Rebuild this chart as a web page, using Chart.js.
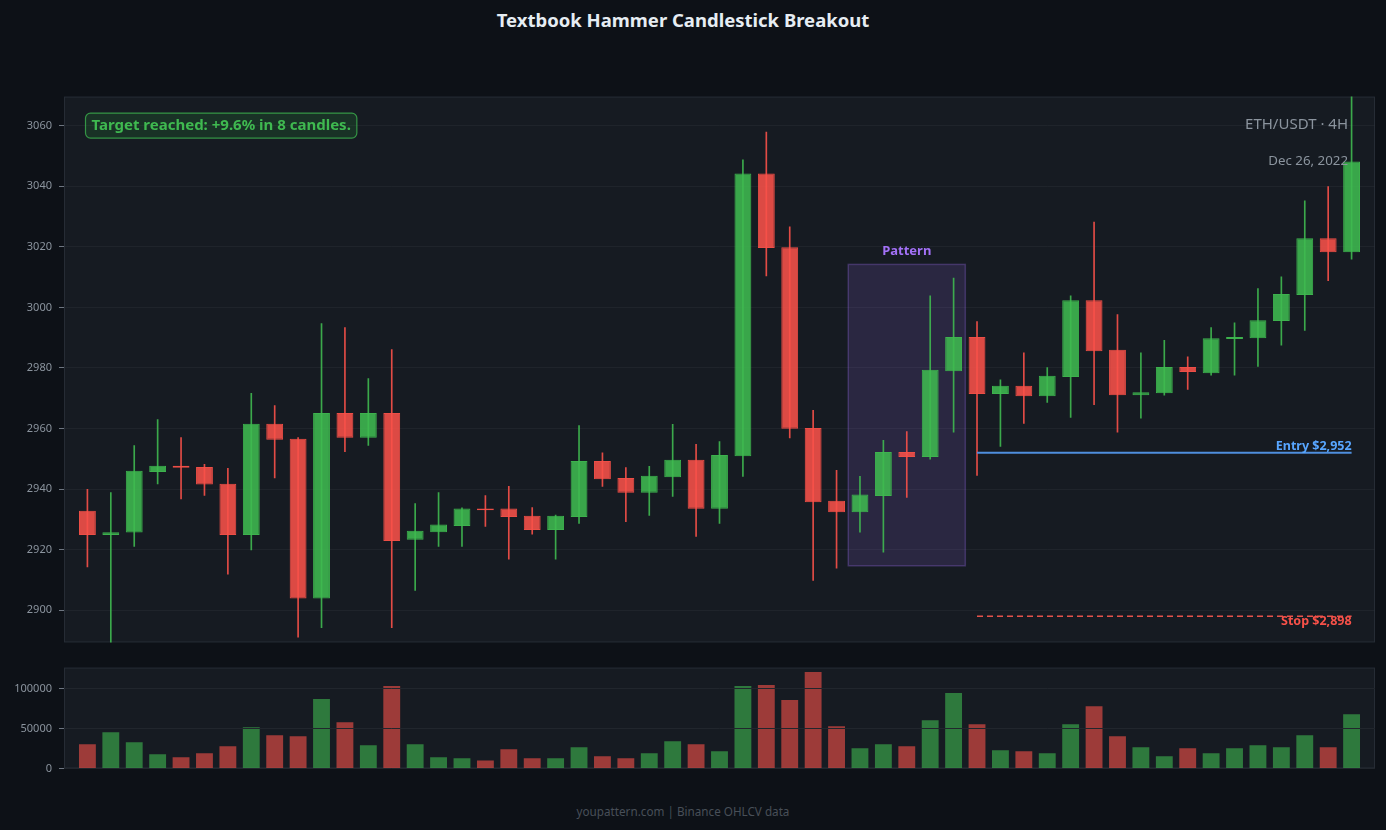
<!DOCTYPE html>
<html lang="en">
  <head>
    <meta charset="UTF-8" />
    <title>Textbook Hammer Candlestick Breakout</title>
    <script src="https://cdn.jsdelivr.net/npm/chart.js@4"></script>
    <style>
      body {
        margin: 0;
        width: 1386px;
        height: 830px;
        overflow: hidden;
        position: relative;
        background: #0d1117;
        font-family: "Noto Sans", sans-serif;
      }
      .title {
        position: absolute;
        top: 6px;
        left: 0;
        width: 1366px;
        text-align: center;
        color: #e6edf3;
        font-weight: 700;
        font-size: 18.5px;
        line-height: 28px;
      }
      .footer {
        position: absolute;
        top: 801px;
        left: 0;
        width: 1366px;
        text-align: center;
        color: #484f58;
        font-size: 11.7px;
        line-height: 20px;
      }
      #priceBox {
        position: absolute;
        left: 0;
        top: 83px;
        width: 1386px;
        height: 573px;
      }
      #volBox {
        position: absolute;
        left: 0;
        top: 654px;
        width: 1386px;
        height: 128px;
      }
    </style>
  </head>
  <body>
    <div class="title">Textbook Hammer Candlestick Breakout</div>
    <div id="priceBox"><canvas id="priceChart"></canvas></div>
    <div id="volBox"><canvas id="volChart"></canvas></div>
    <div class="footer">youpattern.com | Binance OHLCV data</div>

    <script>
      // ETH/USDT 4H candles
      var opens = [
        2932.9, 2924.9, 2925.7, 2945.7, 2947.7, 2947.3, 2941.8, 2924.9, 2961.6, 2956.6,
        2903.9, 2965.1, 2957.0, 2965.1, 2923.3, 2925.8, 2927.8, 2933.6, 2933.6, 2931.2,
        2926.5, 2930.8, 2949.3, 2943.7, 2938.8, 2943.9, 2949.7, 2933.5, 2950.9, 3044.2,
        3019.9, 2960.2, 2936.2, 2932.4, 2937.7, 2952.3, 2950.6, 2978.9, 2990.2, 2971.4,
        2974.1, 2970.7, 2977.0, 3002.4, 2986.0, 2971.0, 2971.7, 2980.3, 2978.3, 2989.6,
        2989.8, 2995.5, 3004.1, 3022.8, 3018.2,
      ];
      var highs = [
        2939.9, 2938.9, 2954.4, 2963.0, 2957.0, 2948.2, 2946.9, 2971.6, 2967.6, 2957.0,
        2994.7, 2993.3, 2976.5, 2986.1, 2935.2, 2938.9, 2933.8, 2937.9, 2940.9, 2933.9,
        2931.4, 2961.0, 2952.0, 2947.1, 2947.5, 2961.4, 2954.8, 2955.7, 3048.7, 3057.9,
        3026.6, 2966.0, 2946.2, 2944.2, 2956.1, 2959.0, 3003.8, 3009.7, 2995.3, 2976.1,
        2985.0, 2980.1, 3003.8, 3028.2, 2997.6, 2985.0, 2989.1, 2983.7, 2993.3, 2994.9,
        3006.2, 3010.1, 3035.2, 3039.9, 3071.0,
      ];
      var lows = [
        2914.3, 2888.0, 2921.1, 2941.7, 2936.8, 2937.9, 2911.9, 2919.9, 2943.7, 2891.1,
        2894.3, 2952.4, 2954.4, 2894.3, 2906.6, 2921.1, 2921.1, 2927.7, 2916.9, 2925.1,
        2916.9, 2928.7, 2940.9, 2929.3, 2931.3, 2937.6, 2924.4, 2928.7, 2944.2, 3010.4,
        2956.9, 2909.9, 2913.9, 2925.8, 2919.2, 2937.3, 2949.9, 2958.8, 2944.5, 2954.1,
        2961.7, 2968.6, 2963.7, 2967.9, 2958.8, 2963.4, 2971.0, 2972.9, 2977.6, 2977.6,
        2980.5, 2987.5, 2992.4, 3008.8, 3015.9,
      ];
      var closes = [
        2924.9, 2925.8, 2946.1, 2947.7, 2947.1, 2941.5, 2924.9, 2961.6, 2956.3, 2903.9,
        2965.1, 2957.0, 2965.1, 2922.9, 2926.3, 2928.3, 2933.6, 2933.0, 2930.8, 2926.5,
        2931.2, 2949.3, 2943.3, 2938.8, 2944.4, 2949.7, 2933.5, 2951.3, 3044.2, 3019.6,
        2959.9, 2935.7, 2932.4, 2938.2, 2952.3, 2950.6, 2979.4, 2990.2, 2971.4, 2974.1,
        2970.7, 2977.4, 3002.4, 2985.5, 2971.0, 2972.0, 2980.3, 2978.7, 2989.8, 2990.2,
        2995.8, 3004.4, 3022.8, 3018.2, 3048.2,
      ];
      var volumes = [
        30100, 45200, 32600, 17600, 13800, 18800, 27600, 51500, 41400, 40200,
        86600, 57700, 28900, 102900, 30100, 13800, 12600, 10000, 23800, 12600,
        12600, 26400, 15100, 12600, 18800, 33900, 30100, 21300, 102900, 104200,
        85400, 120500, 52700, 25100, 30100, 27600, 60300, 94100, 55200, 22600,
        21300, 18800, 55200, 77800, 40200, 26400, 15100, 25100, 18800, 25100,
        28900, 26400, 41400, 26400, 67800,
      ];
      var priceTicks = [2900, 2920, 2940, 2960, 2980, 3000, 3020, 3040, 3060];
      var volumeTicks = [0, 50000, 100000];

      var entryPrice = 2952;
      var stopPrice = 2898;
      var levelStart = 38; // entry / stop drawn from this candle on
      var patternStart = 33; // hammer setup candles
      var patternEnd = 37;
      var pairLabel = "ETH/USDT · 4H";
      var dateLabel = "Dec 26, 2022";
      var targetNote = "Target reached: +9.6% in 8 candles.";

      var UP = "63, 185, 80";
      var DOWN = "248, 81, 73";
      var lastIdx = opens.length - 1;
      var FONT = "'Noto Sans'";

      Chart.defaults.font.family = "Noto Sans";

      function rgba(c, a) {
        return "rgba(" + c + ", " + a + ")";
      }

      var candleColor = opens.map(function (o, i) {
        return closes[i] >= opens[i] ? UP : DOWN;
      });

      var wickData = opens.map(function (o, i) {
        return { x: i, y: [lows[i], highs[i]] };
      });
      var bodyData = opens.map(function (o, i) {
        return { x: i, y: [opens[i], closes[i]] };
      });
      var volData = volumes.map(function (v, i) {
        return { x: i, y: v };
      });

      // plot background + frame
      var panelBg = {
        id: "panelBg",
        beforeDraw: function (chart) {
          var a = chart.chartArea;
          var ctx = chart.ctx;
          ctx.save();
          ctx.fillStyle = "#161b22";
          ctx.fillRect(a.left, a.top, a.right - a.left, a.bottom - a.top);
          ctx.strokeStyle = "#262c35";
          ctx.lineWidth = 1;
          ctx.strokeRect(a.left + 0.5, a.top + 0.5, a.right - a.left - 1, a.bottom - a.top - 1);
          ctx.restore();
        },
      };

      // pattern box + text annotations
      var annotations = {
        id: "annotations",
        beforeDatasetsDraw: function (chart) {
          var x = chart.scales.x;
          var y = chart.scales.y;
          var ctx = chart.ctx;
          var lo = Math.min.apply(null, lows.slice(patternStart, patternEnd + 1)) - 4.5;
          var hi = Math.max.apply(null, highs.slice(patternStart, patternEnd + 1)) + 4.5;
          var x0 = x.getPixelForValue(patternStart - 0.5);
          var x1 = x.getPixelForValue(patternEnd + 0.5);
          var y0 = y.getPixelForValue(hi);
          var y1 = y.getPixelForValue(lo);
          ctx.save();
          ctx.fillStyle = "rgba(163, 113, 247, 0.15)";
          ctx.fillRect(x0, y0, x1 - x0, y1 - y0);
          ctx.strokeStyle = "rgba(163, 113, 247, 0.28)";
          ctx.lineWidth = 1.5;
          ctx.strokeRect(x0, y0, x1 - x0, y1 - y0);
          ctx.fillStyle = "#a371f7";
          ctx.font = "bold 13px " + FONT;
          ctx.textAlign = "center";
          ctx.textBaseline = "middle";
          ctx.fillText("Pattern", (x0 + x1) / 2, y0 - 13);
          ctx.restore();
        },
        afterDatasetsDraw: function (chart) {
          var a = chart.chartArea;
          var x = chart.scales.x;
          var y = chart.scales.y;
          var ctx = chart.ctx;
          ctx.save();

          // level labels
          var lx = x.getPixelForValue(lastIdx);
          ctx.textAlign = "right";
          ctx.font = "bold 12.5px " + FONT;
          ctx.fillStyle = "#58a6ff";
          ctx.textBaseline = "bottom";
          ctx.fillText("Entry $2,952", lx, y.getPixelForValue(entryPrice) - 0.5);
          ctx.fillStyle = "#f85149";
          ctx.textBaseline = "top";
          ctx.fillText("Stop $2,898", lx, y.getPixelForValue(stopPrice) - 1);

          // pair / date
          ctx.fillStyle = "#8b949e";
          ctx.textBaseline = "middle";
          ctx.font = "15px " + FONT;
          ctx.fillText(pairLabel, a.right - 27, a.top + 28);
          ctx.font = "13.3px " + FONT;
          ctx.fillText(dateLabel, a.right - 27, a.top + 65);

          // target badge
          ctx.font = "bold 15px " + FONT;
          var w = ctx.measureText(targetNote).width + 12;
          var bx = a.left + 21.5;
          var by = a.top + 16.5;
          ctx.beginPath();
          ctx.roundRect(bx, by, w, 25, 5);
          ctx.fillStyle = "rgba(35, 134, 54, 0.22)";
          ctx.fill();
          ctx.strokeStyle = "rgba(63, 185, 80, 0.75)";
          ctx.lineWidth = 1.2;
          ctx.stroke();
          ctx.fillStyle = "#3fb950";
          ctx.textAlign = "left";
          ctx.fillText(targetNote, bx + 6, by + 13);
          ctx.restore();
        },
      };

      function yAxis(min, max, tickValues, gridOnTop) {
        return {
          min: min,
          max: max,
          afterFit: function (s) {
            s.width = 64;
          },
          afterBuildTicks: function (s) {
            s.ticks = tickValues.map(function (v) {
              return { value: v };
            });
          },
          border: { display: false },
          grid: {
            color: gridOnTop ? "#21262d" : "rgba(48, 54, 61, 0.35)",
            tickColor: "#6e7681",
            tickLength: 5,
            z: gridOnTop ? 1 : 0,
          },
          ticks: {
            color: "#8b949e",
            font: { size: 11 },
            padding: 7,
            callback: function (v) {
              return String(v);
            },
          },
        };
      }

      var sharedX = {
        type: "linear",
        min: -1,
        max: opens.length,
        offset: false,
        display: false,
        grid: { offset: false },
      };

      new Chart(document.getElementById("priceChart").getContext("2d"), {
        type: "bar",
        data: {
          datasets: [
            {
              label: "wick",
              data: wickData,
              backgroundColor: candleColor.map(function (c) {
                return rgba(c, 0.9);
              }),
              barThickness: 1,
              grouped: false,
              order: 3,
            },
            {
              label: "body",
              data: bodyData,
              backgroundColor: candleColor.map(function (c) {
                return rgba(c, 0.88);
              }),
              borderColor: candleColor.map(function (c) {
                return rgba(c, 0.95);
              }),
              borderWidth: 1,
              borderSkipped: false,
              grouped: false,
              order: 2,
            },
            {
              type: "line",
              label: "entry",
              data: [
                { x: levelStart, y: entryPrice },
                { x: lastIdx, y: entryPrice },
              ],
              borderColor: "#4f8fde",
              borderWidth: 2,
              pointRadius: 0,
              order: 1,
            },
            {
              type: "line",
              label: "stop",
              data: [
                { x: levelStart, y: stopPrice },
                { x: lastIdx, y: stopPrice },
              ],
              borderColor: "#e5534b",
              borderWidth: 1.5,
              borderDash: [6, 4],
              pointRadius: 0,
              order: 1,
            },
          ],
        },
        options: {
          responsive: true,
          maintainAspectRatio: false,
          animation: false,
          layout: { padding: { top: 6, bottom: 8, left: 0, right: 11 } },
          plugins: { legend: { display: false }, tooltip: { enabled: false } },
          scales: {
            x: sharedX,
            y: yAxis(2889.4, 3069.6, priceTicks, false),
          },
        },
        plugins: [panelBg, annotations],
      });

      new Chart(document.getElementById("volChart").getContext("2d"), {
        type: "bar",
        data: {
          datasets: [
            {
              label: "volume",
              data: volData,
              backgroundColor: candleColor.map(function (c) {
                return rgba(c, 0.6);
              }),
            },
          ],
        },
        options: {
          responsive: true,
          maintainAspectRatio: false,
          animation: false,
          layout: { padding: { top: 7, bottom: 7, left: 0, right: 11 } },
          plugins: { legend: { display: false }, tooltip: { enabled: false } },
          scales: {
            x: sharedX,
            y: yAxis(0, 126000, volumeTicks, true),
          },
        },
        plugins: [panelBg],
      });
    </script>
  </body>
</html>
